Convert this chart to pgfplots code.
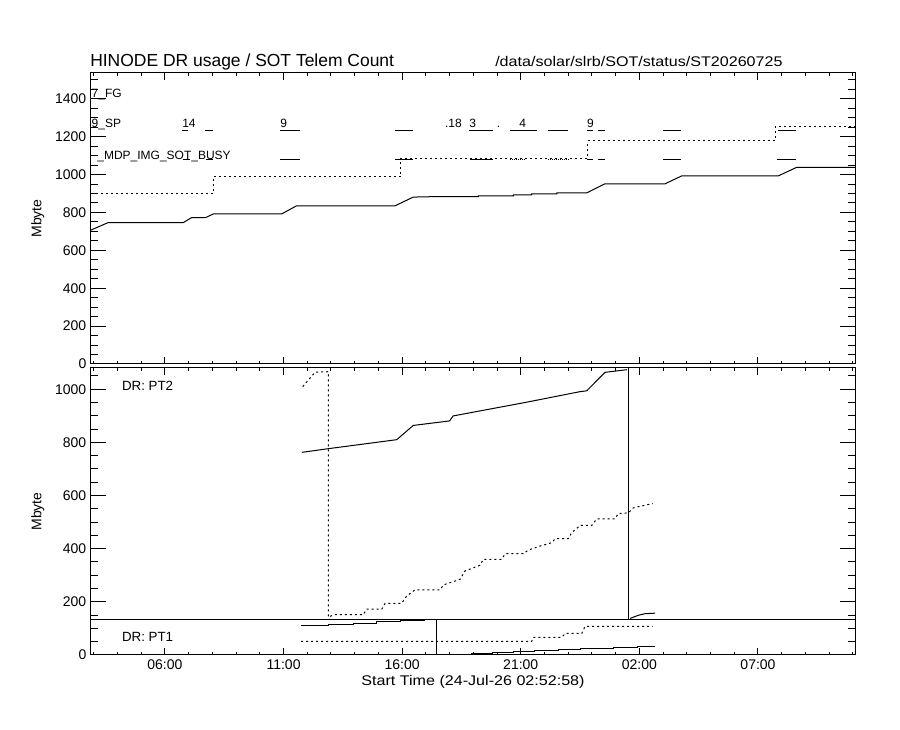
\documentclass[border=0pt]{standalone}
\usepackage{fontspec}
\setmainfont{Liberation Sans}
\newfontfamily\widefont{Liberation Sans}[FakeStretch=1.15]
\usepackage{pgfplots}
\pgfplotsset{compat=1.18}
\tikzset{dotline/.style={dash pattern=on 1.5pt off 2.25pt}}
\newcommand{\seg}[3]{\addplot[black,line width=0.75pt,forget plot] coordinates {(#1,#3) (#2,#3)};}
\newcommand{\dseg}[3]{\addplot[black,line width=0.75pt,forget plot,dash pattern=on 0.75pt off 0.75pt] coordinates {(#1,#3) (#2,#3)};}
\newcommand{\lab}[3]{\node[anchor=base west,inner sep=0,font=\fontsize{9}{10}\selectfont] at (axis cs:#1,#2) {#3};}
\pgfplotsset{
  idl/.style={
    scale only axis, width=573pt,
    xmin=2.883, xmax=35.09,
    xtick={6,11,16,21,26,31},
    minor xtick={3,4,5,7,8,9,10,12,13,14,15,17,18,19,20,22,23,24,25,27,28,29,30,32,33,34,35},
    axis line style={line width=0.75pt},
    tick style={black,line width=0.75pt},
    major tick length=11.25pt, minor tick length=5.6pt,
    every x tick/.append style={/pgfplots/major tick length=5.25pt,/pgfplots/minor tick length=2.6pt},
    tick label style={font=\fontsize{10.5}{12}\selectfont},
    /pgf/number format/assume math mode=true,
    /pgf/number format/1000 sep={},
    every axis y label/.style={at={(rel axis cs:0,0.5)}, xshift=-40pt, rotate=90, anchor=center, font=\fontsize{10.5}{12}\selectfont},
    ylabel={Mbyte},
    cycle list={{black,solid,line width=0.75pt}},
    no markers,
  }
}
\begin{document}
\begin{tikzpicture}
\useasboundingbox (0,0) rectangle (675pt,547.5pt);
% ---------------- top panel ----------------
\begin{axis}[idl, name=top, at={(68.25pt,274.5pt)}, anchor=south west, height=218.25pt,
  ymin=0, ymax=1536, ytick={0,200,...,1400}, minor ytick={50,100,...,1500}, xticklabels={}]
\addplot[black,line width=0.75pt] coordinates {(2.883,707) (3.47,739) (3.6,746) (6.77,746) (7.13,773) (7.72,773) (8.04,792) (10.92,792) (11.55,835) (15.70,835) (16.47,881) (17.6,884) (19.21,884) (19.21,888) (20.69,888) (20.69,893) (21.46,893) (21.46,898) (22.52,898) (22.52,903) (23.78,903) (24.55,951) (27.08,951) (27.79,993) (31.86,993) (32.63,1038) (35.09,1038)};
\addplot[black,line width=0.75pt,dotline] coordinates {(2.883,898) (8.04,898) (8.04,990) (15.94,990) (15.94,1087) (23.82,1087) (23.82,1179) (31.72,1179) (31.72,1251) (35.09,1251)};
% SP row segments
\seg{6.72}{6.98}{1235}
\seg{7.69}{8.03}{1235}
\seg{10.85}{11.69}{1235}
\seg{15.70}{16.46}{1235}
\seg{18.82}{19.83}{1235}
\seg{20.55}{21.69}{1235}
\seg{22.15}{23.00}{1235}
\seg{23.79}{24.05}{1235}
\seg{24.25}{24.55}{1235}
\seg{26.99}{27.76}{1235}
\seg{31.85}{32.60}{1235}
% MDP row segments
\seg{6.76}{7.05}{1077}
\seg{7.72}{8.03}{1077}
\seg{10.85}{11.69}{1077}
\seg{15.70}{16.46}{1077}
\seg{18.86}{19.83}{1077}
\dseg{20.55}{21.20}{1080}
\dseg{22.15}{23.00}{1080}
\seg{23.79}{24.05}{1077}
\seg{24.25}{24.55}{1077}
\seg{26.99}{27.76}{1077}
\seg{31.80}{32.61}{1077}
\lab{2.90}{1404}{7\_FG}
\lab{2.90}{1246}{9\_SP}
\lab{6.72}{1246}{14}
\lab{10.85}{1246}{9}
\lab{17.80}{1246}{.18}
\lab{18.82}{1246}{3}
\lab{19.98}{1246}{.}
\lab{20.93}{1246}{4}
\lab{23.79}{1246}{9}
\lab{3.14}{1081}{\_MDP\_IMG\_SOT\_BUSY}
\end{axis}
% ---------------- bottom panel ----------------
\begin{axis}[idl, name=bot, at={(68.25pt,56.25pt)}, anchor=south west, height=215.25pt,
  ymin=0, ymax=1080, ytick={0,200,...,1000}, minor ytick={50,100,...,1050},
  xticklabels={06:00,11:00,16:00,21:00,02:00,07:00},
  xlabel={Start Time (24-Jul-26 02:52:58)},
  every axis x label/.style={at={(rel axis cs:0.5,0)}, anchor=base, yshift=-23.25pt, font=\widefont\fontsize{10.5}{12}\selectfont}]
% partition boundary
\addplot[black,line width=0.75pt] coordinates {(2.883,135) (35.09,135)};
% PT2 dotted
\addplot[black,line width=0.75pt,dotline] coordinates {(11.81,1010) (12.33,1064) (12.89,1066) (12.89,141.5) (13.10,151.5) (14.36,151.5) (14.50,172.3) (15.14,172.3) (15.28,194.2) (15.98,194.2) (16.19,222) (16.54,244.9) (17.60,244.9) (17.74,263.7) (18.44,284.6) (18.65,316.4) (19.28,337.3) (19.42,360.1) (20.20,360.1) (20.34,381) (21.11,381) (21.32,394.9) (21.81,409.8) (22.31,422.7) (22.45,437.6) (23.00,437.6) (23.15,460.5) (23.50,487.3) (23.99,487.3) (24.20,512.1) (24.97,512.1) (25.11,532) (25.54,535) (25.75,553.9) (26.56,569.8)};
% PT2 solid
\addplot[black,line width=0.75pt] coordinates {(11.77,762.5) (12.89,776.4) (15.77,810.2) (16.47,863.9) (18.0,880.8) (18.15,899.6) (21.25,951.3) (23.50,991) (23.78,994) (24.55,1063.6) (25.47,1073.5)};
\addplot[black,line width=0.75pt] coordinates {(25.54,135) (25.54,1080)};
\addplot[black,line width=0.75pt] coordinates {(25.61,137.6) (25.96,149.5) (26.24,155.4) (26.66,157.4)};
% PT1 solid
\addplot[black,line width=0.75pt] coordinates {(11.74,112.7) (12.89,112.7) (12.89,116.3) (13.94,116.3) (13.94,119.7) (14.93,119.7) (14.93,124.6) (15.91,124.6) (15.91,130.1) (16.96,130.1)};
\addplot[black,line width=0.75pt] coordinates {(17.44,0) (17.44,135)};
\addplot[black,line width=0.75pt] coordinates {(17.88,1.1) (18.93,1.1) (18.93,6.4) (19.8,6.4) (19.8,10.1) (20.7,10.1) (20.7,13.9) (21.6,13.9) (21.6,17.6) (22.6,17.6) (22.6,21.4) (23.5,21.4) (23.5,25.1) (24.9,25.1) (24.9,28.9) (25.9,28.9) (25.9,33.7) (26.66,33.7)};
% PT1 dotted
\addplot[black,line width=0.75pt,dotline] coordinates {(11.74,51.1) (21.46,51.1) (21.53,66) (22.73,66) (22.87,80.9) (23.57,80.9) (23.71,107.7) (26.56,107.7)};
\node[anchor=base west,inner sep=0,font=\fontsize{10}{12}\selectfont] at (axis cs:4.18,997) {DR: PT2};
\node[anchor=base west,inner sep=0,font=\fontsize{10}{12}\selectfont] at (axis cs:4.18,49) {DR: PT1};
\end{axis}
\node[anchor=base west,inner sep=0,font=\fontsize{13.1}{15}\selectfont] at ([xshift=-0.75pt,yshift=4.7pt]top.north west) {HINODE DR usage / SOT Telem Count};
\node[anchor=base west,inner sep=0,font=\widefont\fontsize{10.5}{12}\selectfont] at ([xshift=303pt,yshift=4.7pt]top.north west) {/data/solar/slrb/SOT/status/ST20260725};
\end{tikzpicture}
\end{document}
